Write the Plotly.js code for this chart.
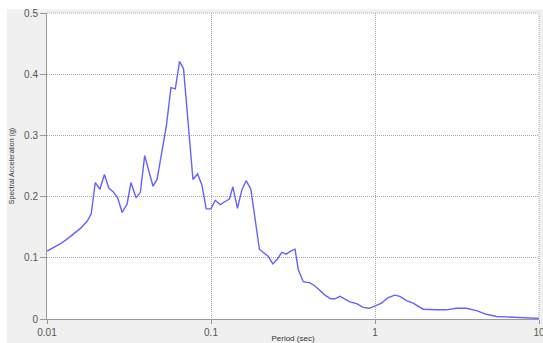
<!DOCTYPE html>
<html>
<head>
<meta charset="utf-8">
<script src="https://cdn.plot.ly/plotly-3.0.1.min.js"></script>
<style>
  html, body { margin: 0; padding: 0; background: #ffffff; }
  #chart { width: 543px; height: 343px; }
</style>
</head>
<body>
<div id="chart"></div>
<script>
// Response spectrum: period (sec) vs spectral acceleration (g)
const period = [
  0.0100, 0.0121, 0.0133, 0.0146, 0.0160, 0.0176, 0.0186, 0.0197, 0.0210, 0.0224,
  0.0238, 0.0253, 0.0270, 0.0287, 0.0308, 0.0325, 0.0349, 0.0371, 0.0394, 0.0443,
  0.0469, 0.0534, 0.0570, 0.0606, 0.0643, 0.0680, 0.0776, 0.0828, 0.0880, 0.0935,
  0.0999, 0.1061, 0.1138, 0.1220, 0.1296, 0.1359, 0.1450, 0.1542, 0.1638, 0.1750,
  0.1858, 0.1973, 0.2239, 0.2382, 0.2540, 0.2701, 0.2869, 0.3064, 0.3254, 0.3409,
  0.3656, 0.4017, 0.4307, 0.4618, 0.4955, 0.5368, 0.5702, 0.6113, 0.6559, 0.7035,
  0.7727, 0.8475, 0.9221, 0.9986, 1.097, 1.203, 1.321, 1.418, 1.557, 1.708,
  1.965, 2.371, 2.728, 3.139, 3.611, 4.154, 4.778, 5.497, 6.938, 9.630,
  10.00
];
const spectralAccel = [
  0.111, 0.123, 0.131, 0.139, 0.148, 0.160, 0.172, 0.223, 0.212, 0.236,
  0.214, 0.208, 0.198, 0.174, 0.188, 0.223, 0.198, 0.207, 0.267, 0.217,
  0.228, 0.315, 0.378, 0.376, 0.421, 0.409, 0.228, 0.237, 0.219, 0.180,
  0.180, 0.194, 0.187, 0.192, 0.196, 0.216, 0.181, 0.211, 0.226, 0.212,
  0.167, 0.114, 0.102, 0.090, 0.098, 0.109, 0.106, 0.111, 0.114, 0.080,
  0.061, 0.059, 0.054, 0.047, 0.039, 0.033, 0.033, 0.037, 0.033, 0.028,
  0.025, 0.019, 0.0175, 0.021, 0.026, 0.035, 0.039, 0.037, 0.030, 0.026,
  0.016, 0.015, 0.015, 0.0175, 0.0175, 0.0136, 0.0077, 0.004, 0.003, 0.001,
  0.001
];

const xTickVals = [0.01, 0.1, 1, 10];
const xTickText = ['0.01', '0.1', '1', '10'];
const yTickVals = [0, 0.1, 0.2, 0.3, 0.4, 0.5];
const yTickText = ['0', '0.1', '0.2', '0.3', '0.4', '0.5'];

const tickFont = { family: 'Liberation Sans, Arial, sans-serif', size: 10, color: '#555555' };
const gridColor = '#a8a8a8';
const gridDash = '1px,1px';

const trace = {
  x: period,
  y: spectralAccel,
  type: 'scatter',
  mode: 'lines',
  line: { color: '#6262ff', width: 1.4 },
  hoverinfo: 'x+y'
};

const layout = {
  width: 543,
  height: 343,
  margin: { l: 47, r: 4, t: 13, b: 24 },
  paper_bgcolor: '#f0f0f0',
  plot_bgcolor: '#ffffff',
  showlegend: false,
  xaxis: {
    type: 'log',
    range: [-2, 1],
    tickvals: xTickVals,
    ticktext: xTickText,
    ticks: 'outside',
    ticklen: 4,
    tickcolor: '#999999',
    tickfont: tickFont,
    ticklabeloverflow: 'allow',
    showline: true,
    linecolor: '#999999',
    linewidth: 1,
    showgrid: true,
    gridcolor: gridColor,
    griddash: gridDash,
    gridwidth: 1,
    zeroline: false,
    title: { text: 'Period (sec)', font: { family: 'Liberation Sans, Arial, sans-serif', size: 8, color: '#333333' }, standoff: 6 }
  },
  yaxis: {
    range: [0, 0.5],
    tickvals: yTickVals,
    ticktext: yTickText,
    ticks: 'outside',
    ticklen: 6,
    tickcolor: '#999999',
    tickfont: tickFont,
    ticklabeloverflow: 'allow',
    showline: true,
    linecolor: '#999999',
    linewidth: 1,
    showgrid: true,
    gridcolor: gridColor,
    griddash: gridDash,
    gridwidth: 1,
    zeroline: false,
    title: { text: 'Spectral Acceleration (g)', font: { family: 'Liberation Sans, Arial, sans-serif', size: 7, color: '#333333' }, standoff: 8 }
  },
  shapes: [
    // white strips framing the grey panel at the left and top
    { type: 'rect', xref: 'paper', yref: 'paper', x0: -0.2, x1: -0.0813, y0: -0.2, y1: 1.2,
      fillcolor: '#ffffff', line: { width: 0 }, layer: 'below' },
    { type: 'rect', xref: 'paper', yref: 'paper', x0: -0.2, x1: 1.2, y0: 1.0125, y1: 1.2,
      fillcolor: '#ffffff', line: { width: 0 }, layer: 'below' },
    // dotted frame along the top and right edges of the plot area
    { type: 'line', xref: 'paper', yref: 'paper', x0: 0, x1: 1, y0: 1, y1: 1,
      line: { color: gridColor, width: 1, dash: gridDash } },
    { type: 'line', xref: 'paper', yref: 'paper', x0: 1, x1: 1, y0: 0, y1: 1,
      line: { color: gridColor, width: 1, dash: gridDash } }
  ]
};

Plotly.newPlot('chart', [trace], layout, { displayModeBar: false, staticPlot: true });
</script>
</body>
</html>
